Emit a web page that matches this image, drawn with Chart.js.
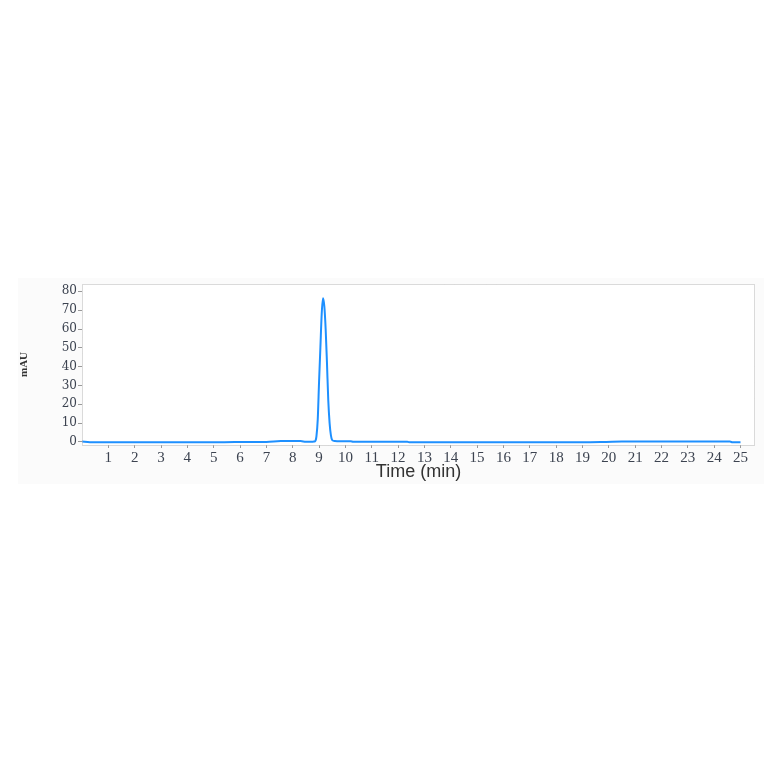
<!DOCTYPE html>
<html>
<head>
<meta charset="utf-8">
<script src="https://cdn.jsdelivr.net/npm/chart.js@4/dist/chart.umd.min.js"></script>
<style>
  body { margin: 0; background: #fff; }
  #wrap { position: absolute; left: 18px; top: 278px; width: 746px; height: 206px; background: #fbfbfb; }
</style>
</head>
<body>
<div id="wrap"><canvas id="myChart"></canvas></div>
<script>
// retention time (min) and absorbance (mAU)
const times = [0, 0.3, 1, 2, 3, 4, 5, 5.8, 6.5, 7, 7.55, 8.0, 8.3, 8.5, 8.7, 8.8,
  8.85, 8.9, 8.95, 9.0, 9.05, 9.1, 9.15, 9.2, 9.25, 9.3, 9.35, 9.4, 9.45, 9.5,
  9.6, 9.8, 10.2, 10.3, 11, 12.35, 12.45, 13, 14, 15, 16, 17, 18, 19, 19.9,
  20.5, 21, 22, 23, 24, 24.6, 24.7, 25];
const mAU = [0.2, -0.1, -0.2, -0.2, -0.2, -0.2, -0.2, 0.0, 0.0, 0.0, 0.5, 0.5, 0.5, 0.1, 0.1, 0.2,
  0.4, 3, 12, 32, 50, 68, 76.3, 72, 60, 42, 22, 10, 3.5, 1,
  0.5, 0.4, 0.4, 0.1, 0.1, 0.1, -0.2, -0.2, -0.2, -0.2, -0.2, -0.2, -0.2, -0.2, 0.0,
  0.2, 0.2, 0.2, 0.2, 0.2, 0.2, -0.2, -0.2];

const xTicks = [1, 2, 3, 4, 5, 6, 7, 8, 9, 10, 11, 12, 13, 14, 15, 16, 17, 18, 19, 20, 21, 22, 23, 24, 25];
const yTicks = [0, 10, 20, 30, 40, 50, 60, 70, 80];

const points = times.map((t, i) => ({ x: t, y: mAU[i] }));

const plotBox = {
  id: 'plotBox',
  beforeDraw(chart) {
    const { ctx, chartArea: a } = chart;
    ctx.save();
    ctx.fillStyle = '#fff';
    ctx.fillRect(a.left, a.top, a.right - a.left, a.bottom - a.top);
    ctx.restore();
  },
  afterDraw(chart) {
    const { ctx, chartArea: a } = chart;
    ctx.save();
    ctx.strokeStyle = '#b4b4b4';
    ctx.lineWidth = 1;
    ctx.setLineDash([1, 1]);
    ctx.strokeRect(a.left + 0.5, a.top + 0.5, a.right - a.left - 1, a.bottom - a.top);
    ctx.restore();
  }
};

const labelColor = '#3c4350';

let ctx = document.getElementById('myChart').getContext('2d');
let myChart = new Chart(ctx, {
  type: 'line',
  data: {
    datasets: [{
      label: 'mAU',
      data: points,
      borderColor: 'rgb(30, 144, 255)',
      borderWidth: 2,
      pointRadius: 0,
      fill: false,
      cubicInterpolationMode: 'monotone'
    }]
  },
  options: {
    responsive: true,
    maintainAspectRatio: false,
    animation: false,
    layout: { padding: { top: 6, right: 9, left: 0, bottom: 0 } },
    plugins: { legend: { display: false }, tooltip: { enabled: false } },
    scales: {
      x: {
        type: 'linear',
        min: 0,
        max: 25.55,
        afterFit(scale) {
          scale.height = 39;
          scale.paddingLeft = 0;
          scale.paddingRight = 0;
        },
        afterBuildTicks(scale) { scale.ticks = xTicks.map(v => ({ value: v })); },
        grid: { drawOnChartArea: false, drawTicks: true, tickLength: 3, color: '#999' },
        border: { display: false },
        ticks: {
          font: { family: 'Liberation Serif', size: 15, lineHeight: 1 },
          color: labelColor, padding: 3, maxRotation: 0, autoSkip: false
        },
        title: {
          display: true,
          text: 'Time (min)',
          font: { family: 'Liberation Sans', size: 18 },
          color: '#333',
          padding: { top: 0, bottom: 1 }
        }
      },
      y: {
        min: -1.6,
        max: 83.9,
        afterFit(scale) {
          scale.width = 64;
          scale.paddingTop = 0;
          scale.paddingBottom = 0;
        },
        afterBuildTicks(scale) { scale.ticks = yTicks.map(v => ({ value: v })); },
        grid: { drawOnChartArea: false, drawTicks: true, tickLength: 4, color: '#999' },
        border: { display: false },
        ticks: { font: { family: 'DejaVu Serif', size: 12 }, color: labelColor, padding: 1 },
        title: {
          display: true,
          text: 'mAU',
          font: { family: 'Liberation Serif', size: 11, weight: 'bold' },
          color: '#333',
          padding: { top: 0, bottom: 0 }
        }
      }
    }
  },
  plugins: [plotBox]
});
</script>
</body>
</html>
